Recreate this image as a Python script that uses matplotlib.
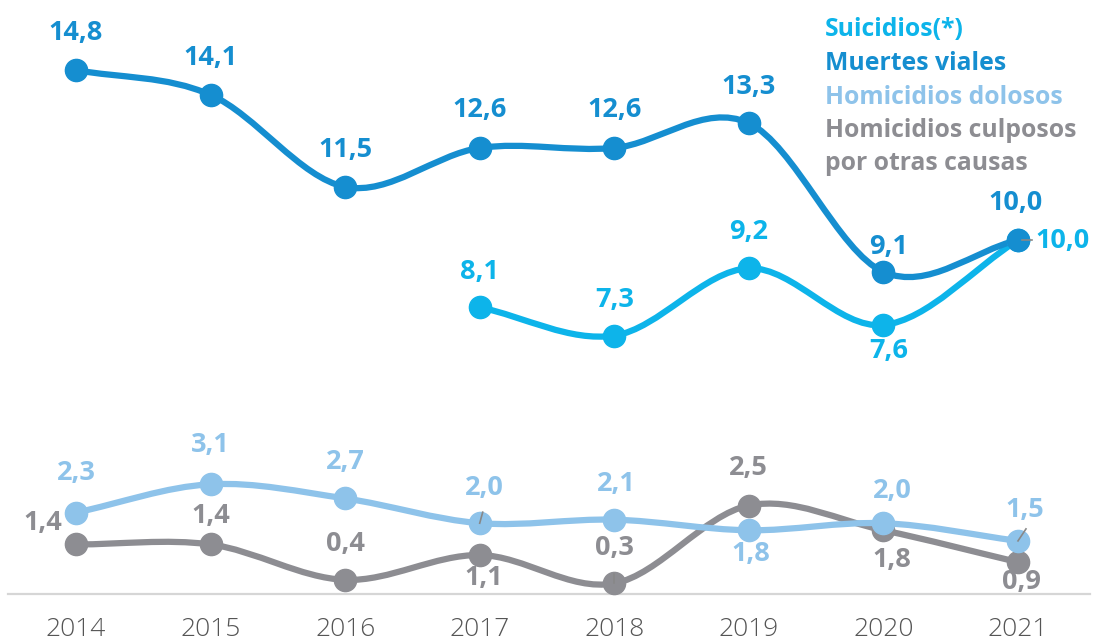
import numpy as np
import matplotlib.pyplot as plt
from matplotlib.path import Path
from matplotlib.patches import PathPatch

years = [2014, 2015, 2016, 2017, 2018, 2019, 2020, 2021]
viales = [14.8, 14.1, 11.5, 12.6, 12.6, 13.3, 9.1, 10.0]
suicidios_years = [2017, 2018, 2019, 2020, 2021]
suicidios = [8.1, 7.3, 9.2, 7.6, 10.0]
dolosos = [2.3, 3.1, 2.7, 2.0, 2.1, 1.8, 2.0, 1.5]
culposos = [1.4, 1.4, 0.4, 1.1, 0.3, 2.5, 1.8, 0.9]

c_suic = '#0db4ea'
c_vial = '#158ed0'
c_dolo = '#8ec3ea'
c_culp = '#8d8d92'

W, H = 1095, 641
fig = plt.figure(figsize=(W / 100, H / 100), dpi=100)
ax = fig.add_axes([0, 0, 1, 1])
# pixel mapping: 2014 -> x=76, 134.57 px per year; y=0 -> py=594, 35.4 px per unit
xpu = 134.57
ypu = 35.4
x0 = 2014 - 76 / xpu
ax.set_xlim(x0, x0 + W / xpu)
ax.set_ylim((594 - H) / ypu, 594 / ypu)
ax.axis('off')


def smooth(ax, xs, ys, color):
    pts = np.column_stack([xs, ys]).astype(float)
    n = len(pts)
    tang = np.zeros_like(pts)
    for i in range(n):
        a = pts[max(i - 1, 0)]
        b = pts[min(i + 1, n - 1)]
        tang[i] = (b - a) / 2 if 0 < i < n - 1 else (b - a)
    verts = [pts[0]]
    codes = [Path.MOVETO]
    for i in range(n - 1):
        verts += [pts[i] + tang[i] / 3, pts[i + 1] - tang[i + 1] / 3, pts[i + 1]]
        codes += [Path.CURVE4] * 3
    ax.add_patch(PathPatch(Path(verts, codes), fill=False, edgecolor=color,
                           lw=4.5, capstyle='round', joinstyle='round', zorder=2))
    ax.plot(xs, ys, 'o', color=color, markersize=16, zorder=3)


# base line
ax.plot([x0 + 8 / xpu, x0 + 1090 / xpu], [0, 0], color='#d6d6d6', lw=1.6, zorder=1)

smooth(ax, years, culposos, c_culp)
smooth(ax, years, dolosos, c_dolo)
smooth(ax, suicidios_years, suicidios, c_suic)
smooth(ax, years, viales, c_vial)

font = 'Open Sans'


def lab(x, y, val, color, dx, dy, ha='center'):
    ax.annotate(f'{val:.1f}'.replace('.', ','), (x, y), xytext=(dx, dy),
                textcoords='offset pixels', ha=ha, va='center', color=color,
                fontsize=19.5, fontweight='bold', family=font, zorder=5)


vial_off = [(0, 37), (0, 37), (0, 37), (0, 38), (0, 38), (0, 36), (5, 25), (-2, 37)]
for x, y, o in zip(years, viales, vial_off):
    lab(x, y, y, c_vial, *o)

suic_off = [(0, 35), (0, 36), (0, 36), (5, -26), (45, -1)]
for x, y, o in zip(suicidios_years, suicidios, suic_off):
    lab(x, y, y, c_suic, *o)

dolo_off = [(0, 40), (0, 39), (0, 36), (5, 35), (2, 36), (2, -24), (9, 32), (7, 31)]
for x, y, o in zip(years, dolosos, dolo_off):
    lab(x, y, y, c_dolo, *o)

culp_off = [(-33, 21), (0, 28), (0, 36), (4, -23), (0, 35), (0, 38), (8, -30), (4, -20)]
for x, y, o in zip(years, culposos, culp_off):
    lab(x, y, y, c_culp, *o)

# small leader ticks (pixel offsets from the point)
for (x, y, d) in [(2017, dolosos[3], (3, 11)), (2021, dolosos[7], (8, 12)), (2018, culposos[4], (0, 9))]:
    ax.plot([x, x + d[0] / xpu], [y, y + d[1] / ypu], color='#888888', lw=1.2, zorder=4)
ax.plot([2021 + 4 / xpu, 2021 + 14 / xpu], [10.0, 10.0], color='#888888', lw=1.2, zorder=4)

for x in years:
    ax.text(x, (594 - 629) / ypu, str(x), ha='center', va='center', fontsize=19,
            color='#555555', family='Open Sans', fontweight='light')

legend = [('Suicidios(*)', c_suic), ('Muertes viales', c_vial),
          ('Homicidios dolosos', c_dolo), ('Homicidios culposos', c_culp),
          ('por otras causas', c_culp)]
for i, (t, c) in enumerate(legend):
    fig.text(825 / W, 1 - (30 + 33.5 * i) / H, t, ha='left', va='center', color=c,
             fontsize=17.8, fontweight='bold', family=font)

fig.savefig('out.png', dpi=100)
